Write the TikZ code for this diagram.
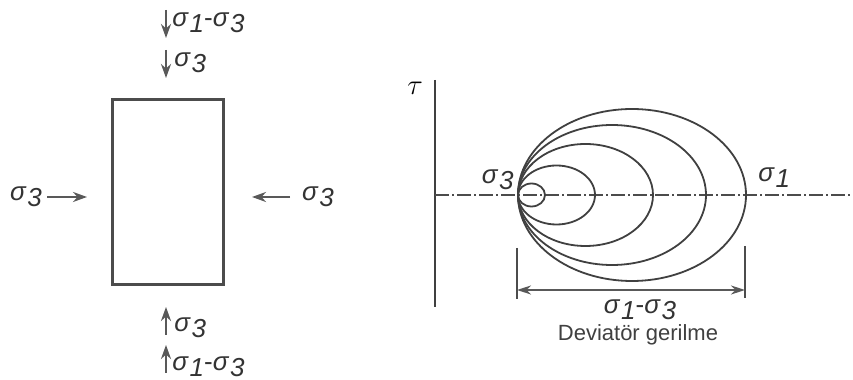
\documentclass[tikz,border=0pt]{standalone}
\usepackage{fontspec}
\setmainfont{Liberation Sans}
\usetikzlibrary{arrows.meta}
\newcommand{\sgm}[1]{\textit{σ}\kern0.4pt\raisebox{-0.45ex}{\itshape #1}}

\begin{document}
\begin{tikzpicture}[x=0.5pt,y=0.5pt,
  force/.style={draw=black!65, line width=1.3pt, -{Stealth[length=7pt,width=5pt]}},
  lbl/.style={inner sep=1pt, font=\fontsize{13}{15}\selectfont, text=black!80},
  mohr/.style={draw=black!75, line width=0.9pt}]
\useasboundingbox (0,0) rectangle (853,380);

% sample under triaxial load
\node[draw=black!70, line width=1.5pt, minimum width=55.5pt, minimum height=92.5pt, inner sep=0pt] (sample) at (167.5,187.5) {};

\coordinate (top1a) at (166,370); \coordinate (top1b) at (166,342);
\coordinate (top2a) at (166,330); \coordinate (top2b) at (166,302);
\coordinate (bot1a) at (166,45);  \coordinate (bot1b) at (166,73);
\coordinate (bot2a) at (166,7);   \coordinate (bot2b) at (166,35);
\coordinate (lefta) at (47,183);  \coordinate (leftb) at (87,183);
\coordinate (righta) at (290,183); \coordinate (rightb) at (252,183);

\draw[force] (top1a) -- (top1b);
\draw[force] (top2a) -- (top2b);
\draw[force] (bot1a) -- (bot1b);
\draw[force] (bot2a) -- (bot2b);
\draw[force] (lefta) -- (leftb);
\draw[force] (righta) -- (rightb);

\node[lbl, anchor=west] (dtop) at (170,357) {\sgm1-\sgm3};
\node[lbl, anchor=west] (stop) at (172,317) {\sgm3};
\node[lbl, anchor=west] (sbot) at (172,52) {\sgm3};
\node[lbl, anchor=west] (dbot) at (170,13) {\sgm1-\sgm3};
\node[lbl] (sleft) at (26,183) {\sgm3};
\node[lbl] (sright) at (318,183) {\sgm3};

% Mohr circles
\coordinate (tautop) at (435,300); \coordinate (taubot) at (435,73);
\coordinate (ax0) at (435,185); \coordinate (ax1) at (853,185);
\coordinate (s3) at (518,185);
\draw[mohr] (tautop) -- (taubot);
\draw[black!70, line width=0.7pt, dash pattern=on 7pt off 1.5pt on 1pt off 1.5pt] (ax0) -- (ax1);
\node[font=\Large] (tau) at (415,292) {$\tau$};

\foreach \r/\s in {114/86, 94/70, 67.5/51, 38.5/29.5, 13.5/11.5}
  \draw[mohr] (518+\r,185) ellipse [x radius=\r, y radius=\s];

\node[lbl, anchor=east] (s3lbl) at (516,200) {\sgm3};
\node[lbl, anchor=west] (s1lbl) at (756,202) {\sgm1};

% deviator stress
\coordinate (dl0) at (517,132); \coordinate (dl1) at (517,81);
\coordinate (dr0) at (745,134); \coordinate (dr1) at (745,82);
\coordinate (da) at (517,90); \coordinate (db) at (745,90);
\draw[black!70, line width=0.8pt] (dl0) -- (dl1);
\draw[black!70, line width=0.8pt] (dr0) -- (dr1);
\draw[black!65, line width=1pt, {Stealth[length=7pt,width=4.5pt]}-{Stealth[length=7pt,width=4.5pt]}] (da) -- (db);
\node[lbl] (dev) at (640,70) {\sgm1-\sgm3};
\node[text=black!75, font=\fontsize{11}{13}\selectfont] (devtxt) at (638,45) {Deviatör gerilme};
\end{tikzpicture}
\end{document}
